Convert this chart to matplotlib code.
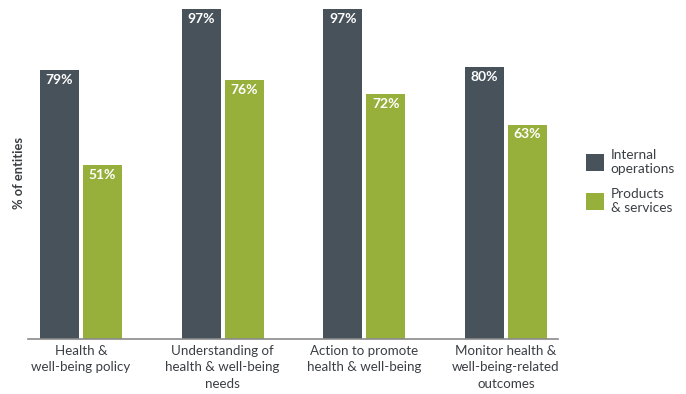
import matplotlib.pyplot as plt
import numpy as np

plt.rcParams['font.family'] = ['Lato', 'DejaVu Sans']

categories = ["Health &\nwell-being policy",
              "Understanding of\nhealth & well-being\nneeds",
              "Action to promote\nhealth & well-being",
              "Monitor health &\nwell-being-related\noutcomes"]
internal_ops = [79, 97, 97, 80]
products_services = [51, 76, 72, 63]
series_names = ["Internal\noperations", "Products\n& services"]

DARK = '#48525a'
GREEN = '#97b03b'
TEXT = '#3a3f44'

fig = plt.figure(figsize=(6.86, 3.94), dpi=100)
ax = fig.add_axes([0.0408, 0.1396, 0.7726, 0.8604])

x = np.arange(len(categories))
w = 0.275
off = 0.152
b1 = ax.bar(x - off, internal_ops, w, color=DARK, label=series_names[0])
b2 = ax.bar(x + off, products_services, w, color=GREEN, label=series_names[1])

# value labels just inside the bar tops
for bars, vals in [(b1, internal_ops), (b2, products_services)]:
    for bar, v in zip(bars, vals):
        ax.text(bar.get_x() + bar.get_width() / 2, v - 2.9, f"{v}%",
                ha='center', va='center', color='white', fontsize=10,
                fontweight='bold')

ax.set_xlim(-0.374, 3.367)
ax.set_ylim(0, 99.6)
for s in ['top', 'right', 'left']:
    ax.spines[s].set_visible(False)
ax.spines['bottom'].set_color('#8a8a8a')
ax.spines['bottom'].set_linewidth(1.2)
ax.set_yticks([])
ax.set_xticks(x)
ax.set_xticklabels(categories, fontsize=9.6, color=TEXT, linespacing=1.45)
ax.tick_params(axis='x', length=0, pad=4)
ax.set_ylabel("% of entities", fontsize=9.3, fontweight='bold', color=TEXT)
ax.yaxis.set_label_coords(-0.005, 0.49)

ax.legend(loc='center left', bbox_to_anchor=(1.03, 0.465), frameon=False,
          fontsize=9.8, handlelength=1.3, handleheight=1.6,
          labelspacing=0.95, handletextpad=0.5, labelcolor=TEXT)

fig.savefig("out.png", dpi=100)
